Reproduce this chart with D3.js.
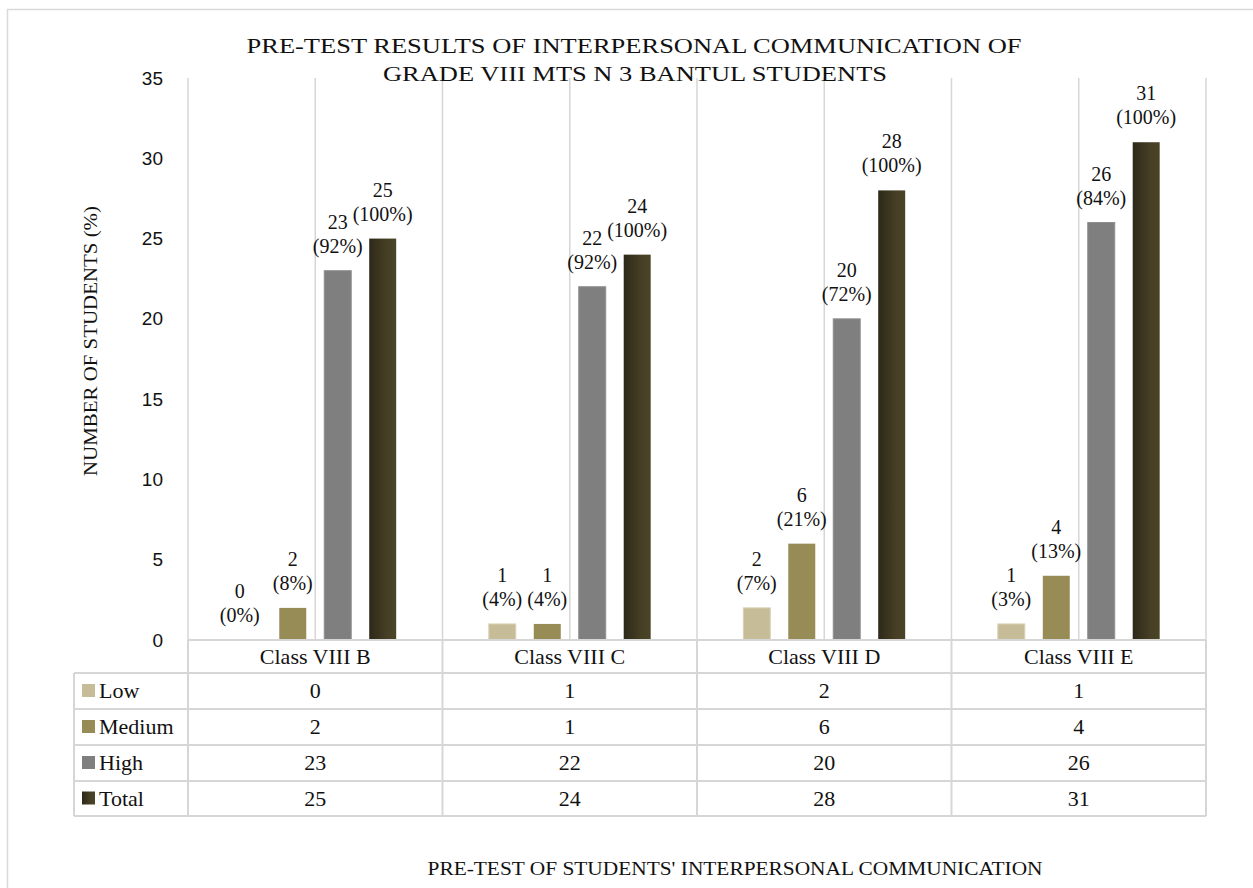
<!DOCTYPE html>
<html>
<head>
<meta charset="utf-8" />
<title>Pre-test results</title>
<script src="https://cdn.jsdelivr.net/npm/d3@7"></script>
<style>
  body { margin: 0; background: #fff; }
  svg text { fill: #111; }
</style>
</head>
<body>
<div id="chart"></div>
<script>
// data
const classes = ["Class VIII B", "Class VIII C", "Class VIII D", "Class VIII E"];
const series = ["Low", "Medium", "High", "Total"];
const lowVals = [0, 1, 2, 1];
const mediumVals = [2, 1, 6, 4];
const highVals = [23, 22, 20, 26];
const totalVals = [25, 24, 28, 31];
const lowPct = ["0%", "4%", "7%", "3%"];
const mediumPct = ["8%", "4%", "21%", "13%"];
const highPct = ["92%", "92%", "72%", "84%"];
const totalPct = ["100%", "100%", "100%", "100%"];
const yTicks = [0, 5, 10, 15, 20, 25, 30, 35];

const values = {Low: lowVals, Medium: mediumVals, High: highVals, Total: totalVals};
const pcts = {Low: lowPct, Medium: mediumPct, High: highPct, Total: totalPct};
const colors = {Low: "#c6bd98", Medium: "#978b56", High: "#7f7f7f", Total: "url(#totalGrad)"};

const width = 1253, height = 888;
const serif = "'Liberation Serif', 'Times New Roman', serif";
const sans = "'Liberation Sans', Arial, sans-serif";
const gridColor = "#d6d6d6";

const svg = d3.select("#chart").append("svg")
  .attr("width", width)
  .attr("height", height);

const defs = svg.append("defs");
const grad = defs.append("linearGradient").attr("id", "totalGrad")
  .attr("x1", "0%").attr("x2", "100%").attr("y1", "0%").attr("y2", "0%");
grad.append("stop").attr("offset", "0%").attr("stop-color", "#2d2819");
grad.append("stop").attr("offset", "65%").attr("stop-color", "#463f25");
grad.append("stop").attr("offset", "100%").attr("stop-color", "#4a4427");

// outer frame
svg.append("rect")
  .attr("x", 7.5).attr("y", 9.5)
  .attr("width", 1400).attr("height", 1000)
  .attr("fill", "none").attr("stroke", "#d9d9d9").attr("stroke-width", 1.5);

const plotLeft = 188, plotRight = 1206, plotTop = 78, plotBottom = 640;

const x0 = d3.scaleBand().domain(classes).range([plotLeft, plotRight]).padding(0);
const x1 = d3.scaleBand().domain(series).range([0, x0.bandwidth()])
  .paddingInner(0.4).paddingOuter(1.03);
const y = d3.scaleLinear().domain([0, 35]).range([plotBottom, plotTop]);

// vertical gridlines (category edges and centres)
const gridXs = [];
classes.forEach(c => { gridXs.push(x0(c)); gridXs.push(x0(c) + x0.bandwidth() / 2); });
gridXs.push(plotRight);
svg.append("g").selectAll("line")
  .data(gridXs)
  .enter().append("line")
    .attr("x1", d => d).attr("x2", d => d)
    .attr("y1", plotTop).attr("y2", plotBottom)
    .attr("stroke", gridColor).attr("stroke-width", 1.5);

// y axis
const yAxis = svg.append("g")
  .attr("transform", "translate(" + plotLeft + ",0)")
  .call(d3.axisLeft(y).tickValues(yTicks).tickSize(0).tickPadding(25));
yAxis.select(".domain").remove();
yAxis.selectAll("text")
  .attr("font-family", sans).attr("font-size", 19).attr("fill", "#222");

// bars
const groups = svg.append("g").selectAll("g")
  .data(classes)
  .enter().append("g")
    .attr("transform", d => "translate(" + x0(d) + ",0)");

groups.selectAll("rect")
  .data((c, i) => series.map(s => ({s: s, v: values[s][i], p: pcts[s][i]})))
  .enter().append("rect")
    .attr("x", d => x1(d.s))
    .attr("y", d => y(d.v))
    .attr("width", x1.bandwidth())
    .attr("height", d => y(0) - y(d.v))
    .attr("fill", d => colors[d.s])
    .attr("stroke", d => d.s === "Low" ? "#d8d1b4" : (d.s === "High" ? "#8f8f8f" : "none"))
    .attr("stroke-width", 1);

// data labels
const lbl = groups.selectAll("text.lbl")
  .data((c, i) => series.map(s => ({s: s, v: values[s][i], p: pcts[s][i]})))
  .enter().append("text")
    .attr("class", "lbl")
    .attr("text-anchor", "middle")
    .attr("font-family", serif)
    .attr("font-size", 20);
lbl.append("tspan")
  .attr("x", d => x1(d.s) + x1.bandwidth() / 2 - (d.v === 0 ? 8 : 0))
  .attr("y", d => y(d.v) - 42)
  .text(d => d.v);
lbl.append("tspan")
  .attr("x", d => x1(d.s) + x1.bandwidth() / 2 - (d.v === 0 ? 8 : 0))
  .attr("y", d => y(d.v) - 18)
  .text(d => "(" + d.p + ")");

// data table
const tableLeft = 74;
const rowYs = [640, 673, 709, 745, 781, 816];
const tbl = svg.append("g");
// horizontal lines
tbl.selectAll("line.h")
  .data(rowYs)
  .enter().append("line")
    .attr("x1", (d, i) => i === 0 ? plotLeft : tableLeft)
    .attr("x2", plotRight)
    .attr("y1", d => d).attr("y2", d => d)
    .attr("stroke", gridColor).attr("stroke-width", 2);
// vertical lines
const colXs = classes.map(c => x0(c)).concat([plotRight]);
tbl.selectAll("line.v")
  .data(colXs)
  .enter().append("line")
    .attr("x1", d => d).attr("x2", d => d)
    .attr("y1", rowYs[0]).attr("y2", rowYs[5])
    .attr("stroke", gridColor).attr("stroke-width", 2);
tbl.append("line")
  .attr("x1", tableLeft).attr("x2", tableLeft)
  .attr("y1", rowYs[1]).attr("y2", rowYs[5])
  .attr("stroke", gridColor).attr("stroke-width", 2);

// category headers
tbl.selectAll("text.cat")
  .data(classes)
  .enter().append("text")
    .attr("x", d => x0(d) + x0.bandwidth() / 2)
    .attr("y", (rowYs[0] + rowYs[1]) / 2 + 7)
    .attr("text-anchor", "middle")
    .attr("font-family", serif).attr("font-size", 22)
    .text(d => d);

// legend keys + values
series.forEach((s, r) => {
  const yMid = (rowYs[r + 1] + rowYs[r + 2]) / 2;
  tbl.append("rect")
    .attr("x", 82).attr("y", yMid - 7)
    .attr("width", 13).attr("height", 13)
    .attr("fill", colors[s]);
  tbl.append("text")
    .attr("x", 99).attr("y", yMid + 7)
    .attr("font-family", serif).attr("font-size", 22)
    .text(s);
  tbl.selectAll("text.val" + r)
    .data(values[s])
    .enter().append("text")
      .attr("x", (d, i) => x0(classes[i]) + x0.bandwidth() / 2)
      .attr("y", yMid + 7)
      .attr("text-anchor", "middle")
      .attr("font-family", serif).attr("font-size", 22)
      .text(d => d);
});

// titles
svg.append("text")
  .attr("x", 634).attr("y", 53)
  .attr("text-anchor", "middle")
  .attr("font-family", serif).attr("font-size", 22)
  .attr("textLength", 775).attr("lengthAdjust", "spacingAndGlyphs")
  .text("PRE-TEST RESULTS OF INTERPERSONAL COMMUNICATION OF");
svg.append("text")
  .attr("x", 635).attr("y", 81)
  .attr("text-anchor", "middle")
  .attr("font-family", serif).attr("font-size", 22)
  .attr("textLength", 504).attr("lengthAdjust", "spacingAndGlyphs")
  .text("GRADE VIII MTS N 3 BANTUL STUDENTS");

svg.append("text")
  .attr("transform", "translate(97,341) rotate(-90)")
  .attr("text-anchor", "middle")
  .attr("font-family", serif).attr("font-size", 19)
  .attr("textLength", 270).attr("lengthAdjust", "spacingAndGlyphs")
  .text("NUMBER OF STUDENTS (%)");

svg.append("text")
  .attr("x", 735).attr("y", 875)
  .attr("text-anchor", "middle")
  .attr("font-family", serif).attr("font-size", 18)
  .attr("textLength", 615).attr("lengthAdjust", "spacingAndGlyphs")
  .text("PRE-TEST OF STUDENTS' INTERPERSONAL COMMUNICATION");
</script>
</body>
</html>
